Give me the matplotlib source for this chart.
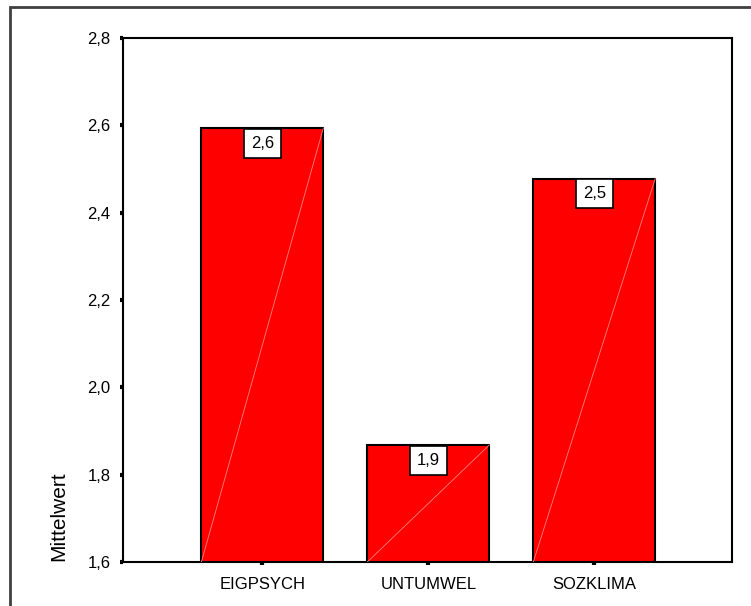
import numpy as np
import matplotlib
matplotlib.use("Agg")
import matplotlib.pyplot as plt
from matplotlib.ticker import FuncFormatter
from matplotlib.patches import Rectangle

plt.rcParams['font.family'] = ['Liberation Sans', 'DejaVu Sans']

# Daten
kategorien = ["EIGPSYCH", "UNTUMWEL", "SOZKLIMA"]
mittelwerte = [2.594, 1.868, 2.478]
y_ticks = [1.6, 1.8, 2.0, 2.2, 2.4, 2.6, 2.8]

fig = plt.figure(figsize=(7.51, 6.06), dpi=100)

# Rahmen um die ganze Grafik (rechts/unten ausserhalb des Bildes)
fig.patches.append(Rectangle((10/751, -0.05), 1.2, 1 - 7/606 + 0.05,
                             transform=fig.transFigure, fill=False,
                             edgecolor='#404040', linewidth=2))

ax = fig.add_axes([123/751, 1 - 562/606, (732 - 123)/751, (562 - 38)/606])

x = np.arange(len(kategorien))
breite = 0.735
ax.bar(x, mittelwerte, width=breite, bottom=0, color='#ff0000',
       edgecolor='black', linewidth=1.5, zorder=2)

# feine Diagonale in den Balken (wie im Original)
for xi, v in zip(x, mittelwerte):
    ax.plot([xi - breite/2, xi + breite/2], [y_ticks[0], v],
            color='#ff8080', linewidth=0.6, zorder=3)

# Wertelabels
for xi, v in zip(x, mittelwerte):
    ax.annotate(f"{v:.1f}".replace('.', ','), xy=(xi, v), xytext=(0, -11),
                textcoords='offset points', ha='center', va='center',
                fontsize=12, zorder=4,
                bbox=dict(boxstyle='square,pad=0.42', facecolor='white',
                          edgecolor='black', linewidth=1.2))

ax.set_ylim(1.6, 2.8)
ax.set_xlim(-0.84, 2.83)
ax.set_yticks(y_ticks)
ax.yaxis.set_major_formatter(FuncFormatter(lambda v, p: f"{v:.1f}".replace('.', ',')))
ax.set_xticks(x)
ax.set_xticklabels(kategorien)
ax.tick_params(axis='both', direction='out', length=2, width=3, labelsize=12)
ax.tick_params(axis='y', pad=7)
ax.tick_params(axis='x', pad=9)
for s in ax.spines.values():
    s.set_linewidth(1.5)

fig.text(68/751, 1 - 561/606, "Mittelwert", rotation=90, fontsize=15,
         ha='right', va='bottom')

fig.savefig("out.png", dpi=100)
